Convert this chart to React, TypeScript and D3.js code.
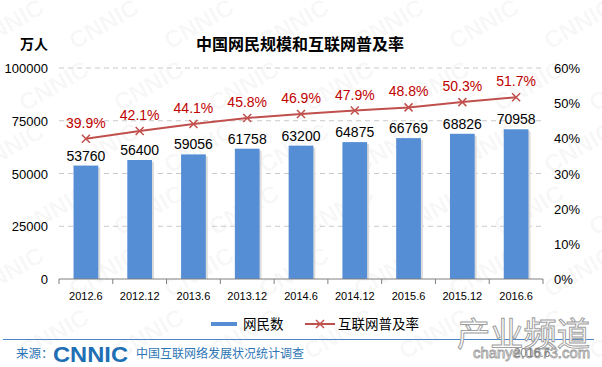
import React from "react";
import * as d3 from "d3";

const categories = ["2012.6", "2012.12", "2013.6", "2013.12", "2014.6", "2014.12", "2015.6", "2015.12", "2016.6"];
const netizens = [53760, 56400, 59056, 61758, 63200, 64875, 66769, 68826, 70958];
const penetration = [39.9, 42.1, 44.1, 45.8, 46.9, 47.9, 48.8, 50.3, 51.7];
const leftTicks = [0, 25000, 50000, 75000, 100000];
const rightTicks = [0, 10, 20, 30, 40, 50, 60];

const W = 602, H = 367;
const FONT = "Arial, 'Liberation Sans', 'Noto Sans CJK SC', sans-serif";
const CJK = "'Noto Sans CJK SC', sans-serif";

export default function App() {
  const x = d3.scaleBand().domain(categories).range([59, 543]).paddingInner(0.54).paddingOuter(0.27);
  const xc = (c: string) => (x(c) as number) + x.bandwidth() / 2;
  const yL = d3.scaleLinear().domain([0, 100000]).range([279, 68]);
  const yR = d3.scaleLinear().domain([0, 60]).range([279, 68]);
  const line = d3.line<number>().x((_, i) => xc(categories[i])).y((d) => yR(d));
  const step = (543 - 59) / categories.length;

  const marks: JSX.Element[] = [];
  for (let r = 0; r < 6; r++) {
    for (let c = 0; c < 7; c++) {
      const wx = c * 95 + (r % 2) * 45 - 20;
      const wy = r * 62 + 50;
      marks.push(
        <text key={`w${r}-${c}`} x={wx} y={wy} fill="#000" fillOpacity={0.04}
          fontFamily={FONT} fontWeight="bold" fontSize={24}
          transform={`rotate(-30 ${wx} ${wy})`}>CNNIC</text>
      );
    }
  }

  return (
    <svg width={W} height={H} style={{ position: "absolute", left: 0, top: 0, background: "#fff" }}>
      <rect width={W} height={H} fill="#fff" />
      {marks}
      <text x={300} y={50} textAnchor="middle" fontFamily={CJK} fontWeight="bold" fontSize={16} fill="#000">中国网民规模和互联网普及率</text>
      <text x={34} y={49} textAnchor="middle" fontFamily={CJK} fontWeight="bold" fontSize={14} fill="#000">万人</text>

      {leftTicks.filter((t) => t > 0).map((t) => (
        <line key={`g${t}`} x1={59} x2={543} y1={yL(t)} y2={yL(t)} stroke="#c8c8c8" strokeDasharray="5,4" />
      ))}
      {leftTicks.map((t) => (
        <text key={`l${t}`} x={48} y={yL(t) + 5} textAnchor="end" fontFamily={FONT} fontSize={13} fill="#000">{t}</text>
      ))}
      {rightTicks.map((t) => (
        <text key={`r${t}`} x={554} y={yR(t) + 5} textAnchor="start" fontFamily={FONT} fontSize={13} fill="#000">{t}%</text>
      ))}

      {categories.map((c, i) => (
        <g key={c}>
          <rect x={(x(c) as number) + 2} y={yL(netizens[i]) + 2} width={x.bandwidth()} height={279 - yL(netizens[i]) - 2} fill="#dcdcdc" />
          <rect x={x(c) as number} y={yL(netizens[i])} width={x.bandwidth()} height={279 - yL(netizens[i])} fill="#558ed5" />
          <text x={xc(c)} y={yL(netizens[i]) - 5} textAnchor="middle" fontFamily={FONT} fontSize={14} fill="#000">{netizens[i]}</text>
        </g>
      ))}

      <line x1={59} x2={543} y1={279} y2={279} stroke="#808080" />
      {d3.range(categories.length + 1).map((i) => (
        <line key={`t${i}`} x1={59 + i * step} x2={59 + i * step} y1={279} y2={284} stroke="#808080" />
      ))}
      {categories.map((c) => (
        <text key={`x${c}`} x={xc(c)} y={300} textAnchor="middle" fontFamily={FONT} fontSize={11} fill="#000">{c}</text>
      ))}

      <path d={line(penetration) || ""} fill="none" stroke="#c0504d" strokeWidth={2} />
      {penetration.map((p, i) => {
        const cx = xc(categories[i]), cy = yR(p);
        return (
          <g key={`p${i}`}>
            <path d={`M${cx - 4},${cy - 4}L${cx + 4},${cy + 4}M${cx - 4},${cy + 4}L${cx + 4},${cy - 4}`} stroke="#c0504d" strokeWidth={1.5} />
            <text x={cx} y={cy - 11} textAnchor="middle" fontFamily={FONT} fontSize={14} fill="#c00000">{p.toFixed(1)}%</text>
          </g>
        );
      })}

      <line x1={211} x2={237} y1={324} y2={324} stroke="#558ed5" strokeWidth={4} />
      <text x={243} y={329} fontFamily={CJK} fontSize={13.5} fill="#000">网民数</text>
      <line x1={305} x2={335} y1={324} y2={324} stroke="#c0504d" strokeWidth={2} />
      <path d="M316,320L324,328M316,328L324,320" stroke="#c0504d" strokeWidth={1.5} />
      <text x={338} y={329} fontFamily={CJK} fontSize={13.5} fill="#000">互联网普及率</text>

      <line x1={3} x2={594} y1={339.5} y2={339.5} stroke="#4a86c8" strokeWidth={1} />
      <text x={16} y={358} fontFamily={CJK} fontSize={12.5} fill="#2e75b6">来源：</text>
      <text x={53} y={362} fontFamily={FONT} fontWeight="bold" fontSize={22} fill="#1f6fb5" textLength={75} lengthAdjust="spacingAndGlyphs">CNNIC</text>
      <text x={136} y={358} fontFamily={CJK} fontSize={12} fill="#2e75b6">中国互联网络发展状况统计调查</text>

      <text x={457} y={346} fontFamily={CJK} fontSize={33} fill="#fff" stroke="#a0a0a0" strokeWidth={1} textLength={133} lengthAdjust="spacingAndGlyphs">产业频道</text>
      <text x={473} y={358} fontFamily={FONT} fontSize={14} fill="#fff" stroke="#a0a0a0" strokeWidth={0.8} textLength={117} lengthAdjust="spacingAndGlyphs">chanye.0673.com</text>
      <text x={532} y={357} textAnchor="middle" fontFamily={FONT} fontSize={12} fill="#808080">2016.6</text>
    </svg>
  );
}
